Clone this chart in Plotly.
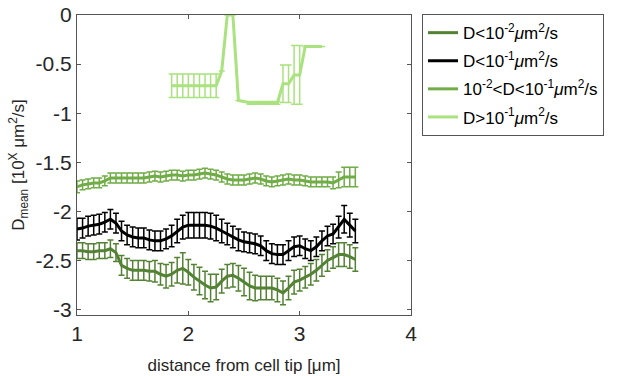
import plotly.graph_objects as go

# ---------------- data ----------------
distance = [1.00, 1.05, 1.10, 1.15, 1.20, 1.25, 1.30, 1.35, 1.40, 1.45,
            1.50, 1.55, 1.60, 1.65, 1.70, 1.75, 1.80, 1.85, 1.90, 1.95,
            2.00, 2.05, 2.10, 2.15, 2.20, 2.25, 2.30, 2.35, 2.40, 2.45,
            2.50, 2.55, 2.60, 2.65, 2.70, 2.75, 2.80, 2.85, 2.90, 2.95,
            3.00, 3.05, 3.10, 3.15, 3.20, 3.25, 3.30, 3.35, 3.40, 3.45, 3.50]

d_low = [-2.40, -2.40, -2.41, -2.41, -2.40, -2.40, -2.38, -2.42, -2.55, -2.58,
         -2.60, -2.60, -2.60, -2.61, -2.61, -2.64, -2.66, -2.64, -2.60, -2.58,
         -2.62, -2.67, -2.71, -2.75, -2.78, -2.77, -2.71, -2.66, -2.65, -2.68,
         -2.72, -2.76, -2.78, -2.78, -2.78, -2.78, -2.80, -2.83, -2.78, -2.72,
         -2.70, -2.67, -2.64, -2.60, -2.55, -2.50, -2.47, -2.44, -2.44, -2.46, -2.49]
d_low_err = [0.08, 0.08, 0.08, 0.08, 0.08, 0.08, 0.09, 0.09, 0.10, 0.10,
             0.10, 0.10, 0.10, 0.10, 0.11, 0.11, 0.12, 0.12, 0.13, 0.16,
             0.13, 0.13, 0.14, 0.14, 0.14, 0.13, 0.12, 0.12, 0.12, 0.13,
             0.14, 0.14, 0.13, 0.12, 0.12, 0.12, 0.12, 0.12, 0.12, 0.12,
             0.11, 0.11, 0.11, 0.11, 0.11, 0.11, 0.11, 0.12, 0.12, 0.12, 0.12]

d_all = [-2.18, -2.17, -2.15, -2.14, -2.13, -2.11, -2.08, -2.12, -2.20, -2.24,
         -2.26, -2.27, -2.27, -2.29, -2.30, -2.30, -2.28, -2.25, -2.20, -2.16,
         -2.14, -2.14, -2.14, -2.14, -2.15, -2.17, -2.20, -2.23, -2.26, -2.29,
         -2.31, -2.32, -2.33, -2.35, -2.40, -2.43, -2.44, -2.44, -2.40, -2.36,
         -2.35, -2.38, -2.40, -2.36, -2.30, -2.25, -2.23, -2.16, -2.08, -2.14, -2.20]
d_all_err = [0.11, 0.10, 0.10, 0.10, 0.10, 0.10, 0.10, 0.10, 0.10, 0.10,
             0.10, 0.10, 0.10, 0.10, 0.10, 0.10, 0.10, 0.11, 0.12, 0.12,
             0.13, 0.13, 0.13, 0.13, 0.13, 0.13, 0.12, 0.11, 0.11, 0.11,
             0.10, 0.10, 0.10, 0.10, 0.10, 0.10, 0.10, 0.10, 0.10, 0.10,
             0.10, 0.10, 0.10, 0.10, 0.10, 0.10, 0.10, 0.11, 0.14, 0.12, 0.12]

d_mid = [-1.75, -1.73, -1.72, -1.71, -1.71, -1.69, -1.66, -1.66, -1.66, -1.66,
         -1.66, -1.66, -1.66, -1.65, -1.64, -1.65, -1.64, -1.63, -1.63, -1.64,
         -1.63, -1.63, -1.62, -1.61, -1.62, -1.63, -1.65, -1.67, -1.68, -1.68,
         -1.68, -1.67, -1.66, -1.67, -1.69, -1.70, -1.69, -1.68, -1.67, -1.68,
         -1.68, -1.69, -1.70, -1.70, -1.70, -1.70, -1.71, -1.68, -1.65, -1.65, -1.65]
d_mid_err = [0.06, 0.05, 0.05, 0.05, 0.05, 0.05, 0.05, 0.05, 0.05, 0.05,
             0.05, 0.05, 0.05, 0.05, 0.05, 0.05, 0.05, 0.05, 0.05, 0.05,
             0.05, 0.05, 0.05, 0.05, 0.05, 0.05, 0.05, 0.05, 0.05, 0.05,
             0.05, 0.05, 0.05, 0.05, 0.05, 0.05, 0.05, 0.05, 0.05, 0.05,
             0.05, 0.05, 0.05, 0.05, 0.05, 0.05, 0.06, 0.08, 0.10, 0.10, 0.10]

distance_high = [1.85, 1.90, 1.95, 2.00, 2.05, 2.10, 2.15, 2.20, 2.25, 2.30,
                 2.35, 2.40, 2.45, 2.50, 2.55, 2.60, 2.65, 2.70, 2.75, 2.80,
                 2.85, 2.90, 2.95, 3.00, 3.05, 3.10, 3.15, 3.20]
d_high = [-0.72, -0.72, -0.72, -0.72, -0.72, -0.72, -0.72, -0.72, -0.72, -0.57,
          0.00, 0.00, -0.87, -0.88, -0.895, -0.895, -0.895, -0.895, -0.895, -0.895,
          -0.70, -0.70, -0.61, -0.61, -0.32, -0.32, -0.32, -0.32]
d_high_err = [0.12, 0.12, 0.12, 0.12, 0.12, 0.12, 0.12, 0.12, 0.12, 0.0,
              0.0, 0.0, 0.0, 0.0, 0.015, 0.015, 0.015, 0.015, 0.015, 0.015,
              0.19, 0.19, 0.30, 0.30, 0.0, 0.0, 0.0, 0.0]

series_names = ["D<10<sup>-2</sup><i>μ</i>m<sup>2</sup>/s",
                "D<10<sup>-1</sup><i>μ</i>m<sup>2</sup>/s",
                "10<sup>-2</sup><D<10<sup>-1</sup><i>μ</i>m<sup>2</sup>/s",
                "D>10<sup>-1</sup><i>μ</i>m<sup>2</sup>/s"]
series_colors = ["#548235", "#000000", "#70AD47", "#A9E27E"]

x_ticks = [1, 2, 3, 4]
y_ticks = [0, -0.5, -1, -1.5, -2, -2.5, -3]
y_tick_labels = ["0", "-0.5", "-1", "-1.5", "-2", "-2.5", "-3"]

# ---------------- figure ----------------
fig = go.Figure()
series = [(distance, d_low, d_low_err),
          (distance, d_all, d_all_err),
          (distance, d_mid, d_mid_err),
          (distance_high, d_high, d_high_err)]
for i, ((xs, ys, es), name, col) in enumerate(zip(series, series_names, series_colors)):
    fig.add_trace(go.Scatter(
        x=xs, y=ys, name=name, mode="lines", legendgroup=f"g{i}",
        line=dict(color=col, width=3),
        error_y=dict(type="data", array=es, visible=True,
                     color=col, thickness=1.5, width=3),
    ))

axis_common = dict(showline=True, linecolor="#555555", linewidth=1,
                   mirror="ticks", ticks="inside", ticklen=4,
                   tickcolor="#555555", showgrid=False, zeroline=False,
                   automargin=False, ticklabeloverflow="allow",
                   tickfont=dict(family="Liberation Sans, Arial", size=21,
                                 color="#262626"))

fig.update_xaxes(range=[1, 4], tickvals=x_ticks, **axis_common,
                 title=dict(text="distance from cell tip [μm]",
                            font=dict(family="Liberation Sans, Arial", size=17,
                                      color="#262626"),
                            standoff=14))
fig.update_yaxes(range=[-3.055, 0], tickvals=y_ticks, ticktext=y_tick_labels,
                 **axis_common,
                 title=dict(text="D<sub>mean</sub> [10<sup>X</sup> μm<sup>2</sup>/s]",
                            font=dict(family="Liberation Sans, Arial", size=17,
                                      color="#262626"),
                            standoff=6))

fig.update_layout(
    width=617, height=376,
    margin=dict(l=77, r=206, t=15, b=61),
    paper_bgcolor="white", plot_bgcolor="white",
    showlegend=True,
    legend=dict(x=1.033, y=1.003, xanchor="left", yanchor="top",
                bgcolor="white", bordercolor="#555555", borderwidth=1,
                font=dict(family="Liberation Sans, Arial", size=17,
                          color="#000000"),
                itemwidth=30, tracegroupgap=3),
)

# remove the browser's default 8 px page margin so the figure sits at (0, 0)
fig.write_html("out.html",
               config={"displayModeBar": False},
               post_script="document.body.style.margin='0';"
                           "document.body.style.overflow='hidden';")
